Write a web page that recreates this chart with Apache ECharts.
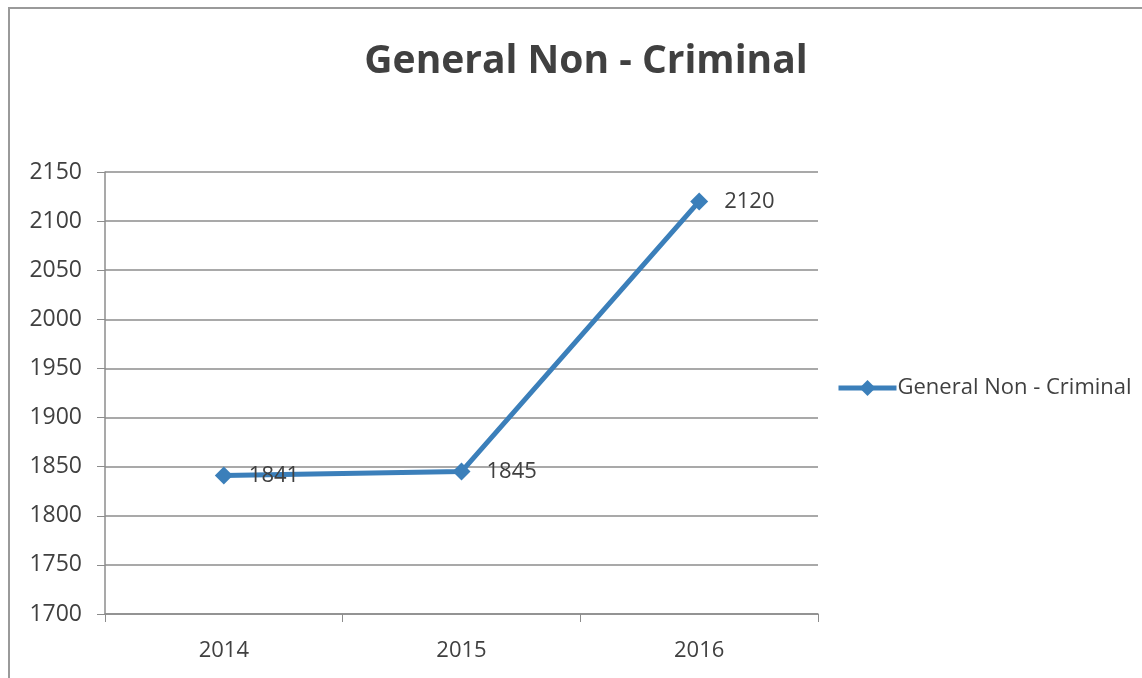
<!DOCTYPE html>
<html>
<head>
<meta charset="utf-8">
<script src="https://cdn.jsdelivr.net/npm/echarts@6/dist/echarts.min.js"></script>
<style>
html,body{margin:0;padding:0;background:#fff;}
#frame{position:absolute;left:8px;top:7px;width:1140px;height:680px;border-left:2px solid #9a9a9a;border-top:2px solid #9a9a9a;box-sizing:border-box;}
#c{position:absolute;left:0;top:0;width:1142px;height:678px;}
</style>
</head>
<body>
<div id="frame"></div>
<div id="c"></div>
<script>
const titleText = "General Non - Criminal";
const categories = ["2014", "2015", "2016"];
const seriesName = "General Non - Criminal";
const values = [1841, 1845, 2120];
const yMin = 1700, yMax = 2150, yStep = 50;

const font = "'Open Sans', 'Liberation Sans', sans-serif";
const txt = '#404040';
const chart = echarts.init(document.getElementById('c'), null, {renderer: 'canvas'});
chart.setOption({
  animation: false,
  backgroundColor: 'transparent',
  title: {
    text: titleText, left: 581, top: 37, textAlign: 'center',
    textStyle: {fontFamily: font, fontSize: 39, fontWeight: 'bold', color: txt}
  },
  grid: {left: 105, right: 324, top: 172, bottom: 64, containLabel: false},
  legend: {
    data: [seriesName],
    orient: 'vertical',
    left: 831, top: 372, itemWidth: 58, itemHeight: 20, itemGap: 0,
    lineStyle: {width: 5},
    textStyle: {fontFamily: font, fontSize: 22, color: txt, padding: [0,0,0,-4]}
  },
  xAxis: {
    type: 'category', data: categories, boundaryGap: true,
    axisLine: {lineStyle: {color: '#8c8c8c', width: 1.5}},
    axisTick: {show: true, length: 8, lineStyle: {color: '#8c8c8c'}},
    axisLabel: {fontFamily: font, fontSize: 22, color: txt, margin: 26},
    splitLine: {show: false}
  },
  yAxis: {
    type: 'value', min: yMin, max: yMax, interval: yStep,
    axisLine: {show: true, lineStyle: {color: '#8c8c8c', width: 1.5}},
    axisTick: {show: true, length: 8, lineStyle: {color: '#8c8c8c'}},
    axisLabel: {fontFamily: font, fontSize: 23, color: txt, margin: 23,
      formatter: v => String(v)},
    splitLine: {lineStyle: {color: '#8c8c8c', width: 1.5}}
  },
  series: [{
    name: seriesName, type: 'line', data: values,
    symbol: 'diamond', symbolSize: 18,
    itemStyle: {color: '#3b7fba'},
    lineStyle: {color: '#3b7fba', width: 5},
    label: {show: true, position: 'right', distance: 16,
      fontFamily: font, fontSize: 22, color: txt}
  }]
});
</script>
</body>
</html>
